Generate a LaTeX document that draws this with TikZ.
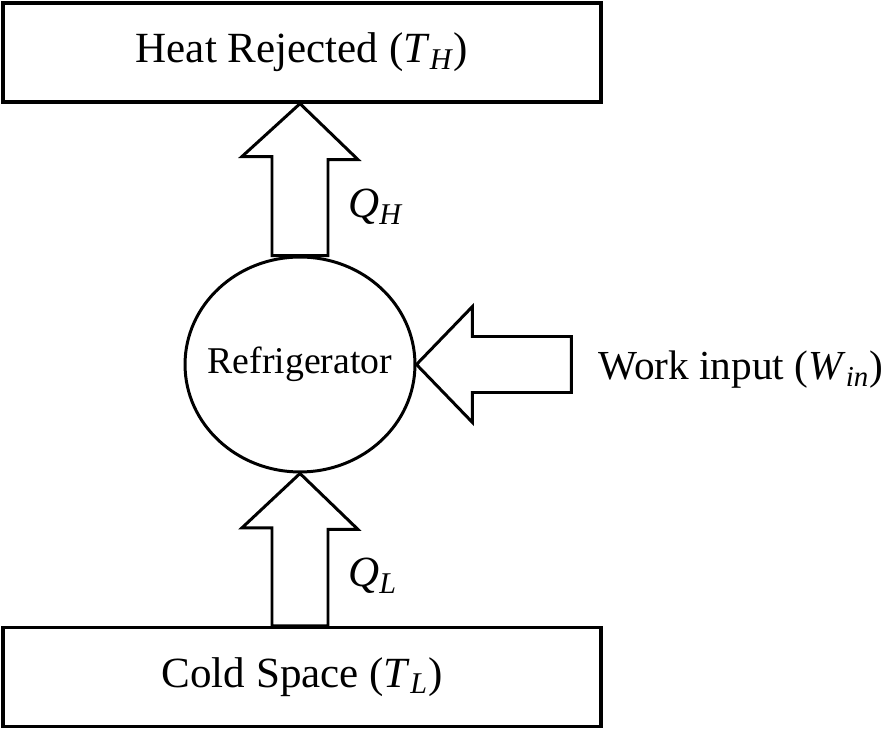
\documentclass[tikz,border=0pt]{standalone}
\usepackage{fontspec}
\setmainfont{Liberation Serif}
\usepackage{tikz}
\usetikzlibrary{shapes.geometric, positioning, calc}
\newcommand{\isub}[2]{\textit{#1}\textsubscript{\textit{#2}}}
\tikzset{
  reservoir/.style={draw, line width=1.9pt, minimum width=11.96cm, minimum height=1.98cm, inner sep=0pt, font=\fontsize{24.5}{29}\selectfont},
  engine/.style={draw, ellipse, line width=1.7pt, minimum width=4.6cm, minimum height=4.3cm, inner sep=0pt},
  blockarrow/.style={draw, line width=1.7pt, line join=miter},
  flowlabel/.style={inner sep=0pt, anchor=base west, font=\fontsize{24.5}{29}\selectfont}
}

\begin{document}
\begin{tikzpicture}[x=0.02cm, y=-0.02cm]
\useasboundingbox (0,0) rectangle (887,729);
\node[reservoir] (hot) at (302,52.5) {Heat Rejected (\isub{T}{H})};
\node[reservoir] (cold) at (302,677) {Cold Space (\isub{T}{L})};
\node[engine, label={[font=\fontsize{21.5}{26}\selectfont]center:Refrigerator}] (fridge) at (300,364.5) {};
\node[flowlabel, font=\fontsize{23.5}{28}\selectfont] (work) at (598,380) {Work input (\isub{W}{in})};
\node[flowlabel] (qh) at (348,218) {\isub{Q}{H}};
\node[flowlabel] (ql) at (348,587) {\isub{Q}{L}};
% heat out to the hot side
\draw[blockarrow] ($(fridge.north)+(-28,0)$) -- ++(0,-99) -- ++(-30,0) -- (fridge.north |- hot.south) -- ++(58,56) -- ++(-30,0) -- ($(fridge.north)+(28,0)$) -- cycle;
% work in
\draw[blockarrow] (fridge.east) -- ++(56,-58) -- ++(0,30) -- ++(99,0) -- ++(0,56) -- ++(-99,0) -- ++(0,30) -- cycle;
% heat from the cold side
\draw[blockarrow] (fridge.south) -- ++(58,56) -- ++(-30,0) -- ($(fridge.south |- cold.north)+(28,0)$) -- ($(fridge.south |- cold.north)+(-28,0)$) -- ++(0,-98) -- ++(-30,0) -- cycle;
\end{tikzpicture}
\end{document}
